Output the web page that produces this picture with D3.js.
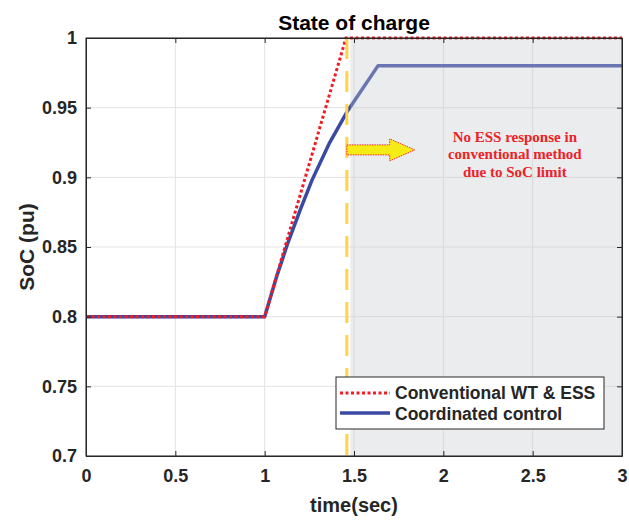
<!DOCTYPE html>
<html>
<head>
<meta charset="utf-8">
<script src="https://cdn.jsdelivr.net/npm/d3@7"></script>
<style>
  body { margin: 0; background: #fff; }
  text { font-family: "Liberation Sans", Arial, sans-serif; font-weight: bold; fill: #262626; }
</style>
</head>
<body>
<div id="chart"></div>
<script>
// data
const xTicks = [0, 0.5, 1, 1.5, 2, 2.5, 3];
const yTicks = [0.7, 0.75, 0.8, 0.85, 0.9, 0.95, 1];

const convTime = [0, 1, 1.455, 3];
const convSoc  = [0.8, 0.8, 1.0, 1.0];

const coordTime = [0, 1, 1.065, 1.13, 1.2, 1.265, 1.36, 1.461, 1.634, 3];
const coordSoc  = [0.8, 0.8, 0.828, 0.853, 0.877, 0.898, 0.924, 0.947, 0.98, 0.98];

const limitTime = 1.46;          // yellow marker
const shadeFrom = 1.48;          // grey region start
const noteLines = ["No ESS response in", "conventional method", "due to SoC limit"];
const legendLabels = ["Conventional WT & ESS", "Coordinated control"];

const margin = {top: 38, right: 7, bottom: 65, left: 86},
      width = 629 - margin.left - margin.right,
      height = 521 - margin.top - margin.bottom;

const svg = d3.select("#chart").append("svg")
    .attr("width", 629)
    .attr("height", 521);

const g = svg.append("g")
    .attr("transform", "translate(" + margin.left + "," + margin.top + ")");

const x = d3.scaleLinear().domain([0, 3]).range([0, width]);
const y = d3.scaleLinear().domain([0.7, 1]).range([height, 0]);

// grid
g.selectAll(".vgrid").data(xTicks).enter().append("line")
    .attr("x1", d => x(d)).attr("x2", d => x(d))
    .attr("y1", 0).attr("y2", height)
    .attr("stroke", "#e3e3e3").attr("stroke-width", 1);
g.selectAll(".hgrid").data(yTicks).enter().append("line")
    .attr("y1", d => y(d)).attr("y2", d => y(d))
    .attr("x1", 0).attr("x2", width)
    .attr("stroke", "#e3e3e3").attr("stroke-width", 1);

// lines
const conv = convTime.map((t, i) => [t, convSoc[i]]);
const coord = coordTime.map((t, i) => [t, coordSoc[i]]);
const line = d3.line().x(d => x(d[0])).y(d => y(d[1]));

g.append("path").datum(coord)
    .attr("d", line)
    .attr("fill", "none")
    .attr("stroke", "#3a4aa3")
    .attr("stroke-width", 3.5)
    .attr("stroke-linejoin", "round");

g.append("path").datum(conv)
    .attr("d", line)
    .attr("fill", "none")
    .attr("stroke", "#f21c24")
    .attr("stroke-width", 3)
    .attr("stroke-dasharray", "3,2.5");

// shaded region over the lines
g.append("rect")
    .attr("x", x(shadeFrom)).attr("y", 0)
    .attr("width", x(3) - x(shadeFrom)).attr("height", height)
    .attr("fill", "#c4c8ce").attr("opacity", 0.35);

// yellow marker
g.append("line")
    .attr("x1", x(limitTime)).attr("x2", x(limitTime))
    .attr("y1", 0).attr("y2", height)
    .attr("stroke", "#ffd24a").attr("stroke-width", 3)
    .attr("stroke-dasharray", "21,12");

// axes box and ticks
const axisColor = "#262626";
g.append("rect").attr("x", 0).attr("y", 0).attr("width", width).attr("height", height)
    .attr("fill", "none").attr("stroke", axisColor).attr("stroke-width", 1);

const xAxis = g.append("g").attr("transform", "translate(0," + height + ")")
    .call(d3.axisBottom(x).tickValues(xTicks).tickSizeInner(-5).tickSizeOuter(0).tickPadding(13).tickFormat(d3.format("")));
const xAxisTop = g.append("g")
    .call(d3.axisTop(x).tickValues(xTicks).tickSizeInner(-5).tickSizeOuter(0).tickFormat(""));
const yAxis = g.append("g")
    .call(d3.axisLeft(y).tickValues(yTicks).tickSizeInner(-5).tickSizeOuter(0).tickPadding(9).tickFormat(d3.format("")));
const yAxisRight = g.append("g").attr("transform", "translate(" + width + ",0)")
    .call(d3.axisRight(y).tickValues(yTicks).tickSizeInner(-5).tickSizeOuter(0).tickFormat(""));

[xAxis, xAxisTop, yAxis, yAxisRight].forEach(a => {
    a.select(".domain").attr("stroke", axisColor);
    a.selectAll(".tick line").attr("stroke", axisColor);
    a.selectAll(".tick text").attr("fill", axisColor)
        .style("font-size", "18px").style("font-weight", "bold")
        .style("font-family", "'Liberation Sans', Arial, sans-serif");
});

// arrow annotation
const ay = y(0.9197), ax0 = x(limitTime), ax1 = x(1.84), headX = x(1.70);
g.append("path")
    .attr("d", d3.line()([
        [ax0, ay - 5], [headX, ay - 5], [headX, ay - 11], [ax1, ay],
        [headX, ay + 11], [headX, ay + 5], [ax0, ay + 5]
    ]) + "Z")
    .attr("fill", "#f5ec16")
    .attr("stroke", "#f02a2a").attr("stroke-width", 1)
    .attr("stroke-dasharray", "1.5,1");

g.append("text")
    .attr("x", x(2.4)).attr("y", y(0.9254))
    .attr("text-anchor", "middle")
    .style("font-family", "'Liberation Serif', 'Times New Roman', serif")
    .style("font-size", "15px")
    .style("fill", "#ec2227")
    .selectAll("tspan").data(noteLines).enter().append("tspan")
    .attr("x", x(2.4)).attr("dy", (d, i) => i === 0 ? 0 : 17.5)
    .text(d => d);

// legend
const lg = g.append("g").attr("transform", "translate(" + (336 - margin.left) + "," + (377 - margin.top) + ")");
lg.append("rect").attr("width", 268).attr("height", 52)
    .attr("fill", "#fff").attr("stroke", axisColor).attr("stroke-width", 1);
lg.append("line").attr("x1", 4).attr("x2", 54).attr("y1", 16).attr("y2", 16)
    .attr("stroke", "#f21c24").attr("stroke-width", 3).attr("stroke-dasharray", "3,2.5");
lg.append("line").attr("x1", 4).attr("x2", 54).attr("y1", 36).attr("y2", 36)
    .attr("stroke", "#3a4aa3").attr("stroke-width", 3.5);
lg.selectAll(".lab").data(legendLabels).enter().append("text")
    .attr("x", 59).attr("y", (d, i) => 22 + i * 21)
    .style("font-size", "17.5px")
    .text(d => d);

// titles
svg.append("text")
    .attr("x", margin.left + width / 2).attr("y", 30)
    .attr("text-anchor", "middle")
    .style("font-size", "21px")
    .style("fill", "#000")
    .text("State of charge");

svg.append("text")
    .attr("x", margin.left + width / 2).attr("y", 512)
    .attr("text-anchor", "middle")
    .style("font-size", "20px")
    .text("time(sec)");

svg.append("text")
    .attr("transform", "translate(34," + (margin.top + height / 2) + ") rotate(-90)")
    .attr("text-anchor", "middle")
    .style("font-size", "21px")
    .text("SoC (pu)");
</script>
</body>
</html>
